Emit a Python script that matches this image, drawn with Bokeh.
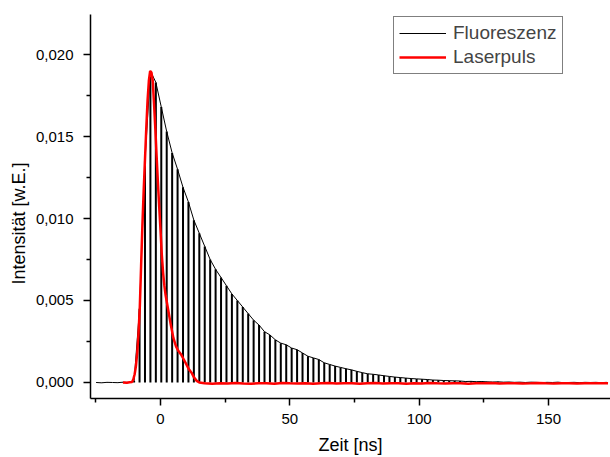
from bokeh.plotting import figure
from bokeh.models import (Range1d, FixedTicker, CustomJSTickFormatter, Legend,
                          LegendItem, Title)
from bokeh.embed import file_html
from bokeh.resources import INLINE

FONT = "Liberation Sans"

# Fluorescence decay (time in ns, intensity in w.E.)
fluor = [
    (-24.9, 0.00000), (-22.8, -0.00002), (-20.7, 0.00001), (-18.6, 0.00000),
    (-16.5, -0.00001), (-14.4, 0.00002), (-12.3, 0.00000), (-10.2, 0.00010),
    (-8.1, 0.0045), (-6.0, 0.0135), (-3.9, 0.0190), (-1.8, 0.0183),
    (0.3, 0.0168), (2.4, 0.0153), (4.5, 0.0140), (6.6, 0.0130),
    (8.7, 0.0119), (10.8, 0.0110), (12.9, 0.0099), (15.0, 0.0091),
    (17.1, 0.0083), (19.2, 0.0075), (21.3, 0.0069), (23.4, 0.0064),
    (25.5, 0.0059), (27.6, 0.0054), (29.7, 0.0050), (31.8, 0.0046),
    (33.9, 0.0042), (36.0, 0.0038), (38.1, 0.0035), (40.2, 0.0031),
    (42.3, 0.0029), (44.4, 0.0026), (46.5, 0.0024), (48.6, 0.0023),
    (50.7, 0.0021), (52.8, 0.0020), (54.9, 0.0018), (57.0, 0.0016),
    (59.1, 0.0015), (61.2, 0.0014), (63.3, 0.0012), (65.4, 0.0011),
    (67.5, 0.00100), (69.6, 0.00092), (71.7, 0.00084), (73.8, 0.00077),
    (75.9, 0.00068), (78.0, 0.00060), (80.1, 0.00053), (82.2, 0.00050),
    (84.3, 0.00046), (86.4, 0.00041), (88.5, 0.00037), (90.6, 0.00033),
    (92.7, 0.00030), (94.8, 0.00027), (96.9, 0.00024), (99.0, 0.00022),
    (101.1, 0.00020), (103.2, 0.00018), (105.3, 0.00015), (107.4, 0.00014),
    (109.5, 0.00012), (111.6, 0.00011), (113.7, 0.00010), (115.8, 0.00009),
    (117.9, 0.00006), (120.0, 0.00007), (122.1, 0.00005), (124.2, 0.00006),
    (126.3, 0.00004), (128.4, 0.00003), (130.5, 0.00004), (132.6, 0.00002),
    (134.7, 0.00003), (136.8, 0.00001), (138.9, 0.00002), (141.0, 0.00000),
    (143.1, 0.00002), (145.2, 0.00001), (147.3, -0.00001), (149.4, 0.00001),
    (151.5, 0.00000), (153.6, 0.00002), (155.7, -0.00001), (157.8, 0.00000),
    (159.9, 0.00001), (162.0, -0.00001), (164.1, 0.00001), (166.2, 0.00000),
    (168.3, 0.00001), (170.4, -0.00001), (172.5, 0.00001),
]
fluor_t = [a for a, _ in fluor]
fluor_v = [b for _, b in fluor]

# Laser pulse
laser = [
    (-14.5, 0.00000), (-13.0, -0.00002), (-12.0, 0.00001), (-11.0, 0.00003),
    (-10.5, 0.0002), (-10.0, 0.0005), (-9.5, 0.0010), (-9.0, 0.0018),
    (-8.5, 0.0030), (-8.0, 0.0046), (-7.5, 0.0071), (-7.0, 0.0096),
    (-6.5, 0.0117), (-6.0, 0.0136), (-5.5, 0.0155), (-5.0, 0.0172),
    (-4.5, 0.0184), (-4.0, 0.0190), (-3.5, 0.0189), (-3.0, 0.0184),
    (-2.5, 0.0170), (-2.0, 0.0155), (-1.5, 0.0138), (-1.0, 0.0122),
    (-0.5, 0.0107), (0.0, 0.0093), (0.5, 0.0078), (1.0, 0.0067),
    (1.5, 0.0059), (2.0, 0.0053), (3.0, 0.0044), (4.0, 0.0035),
    (5.0, 0.0027), (6.0, 0.0022), (7.0, 0.0019), (8.0, 0.0017),
    (9.0, 0.0014), (10.0, 0.0011), (11.0, 0.0008), (12.0, 0.0006),
    (13.0, 0.0003), (14.0, 0.0001), (15.0, 0.0000), (17.0, -0.00005),
    (20.0, -0.00007), (23.0, -0.00004), (26.0, -0.00006), (29.0, -0.00003),
    (32.0, -0.00006), (35.0, -0.00008), (38.0, -0.00004), (41.0, -0.00005),
    (44.0, -0.00007), (47.0, -0.00003), (50.0, -0.00005), (53.0, -0.00006),
    (56.0, -0.00004), (59.0, -0.00007), (62.0, -0.00005), (65.0, -0.00003),
    (68.0, -0.00006), (71.0, -0.00005), (74.0, -0.00004), (77.0, -0.00007),
    (80.0, -0.00005), (83.0, -0.00003), (86.0, -0.00006), (89.0, -0.00004),
    (92.0, -0.00005), (95.0, -0.00007), (98.0, -0.00004), (101.0, -0.00006),
    (104.0, -0.00003), (107.0, -0.00005), (110.0, -0.00006), (113.0, -0.00004),
    (116.0, -0.00005), (119.0, -0.00007), (122.0, -0.00004), (125.0, -0.00005),
    (128.0, -0.00003), (131.0, -0.00006), (134.0, -0.00005), (137.0, -0.00004),
    (140.0, -0.00006), (143.0, -0.00005), (146.0, -0.00003), (149.0, -0.00005),
    (152.0, -0.00006), (155.0, -0.00004), (158.0, -0.00005), (161.0, -0.00006),
    (164.0, -0.00004), (167.0, -0.00005), (170.0, -0.00004), (173.0, -0.00005),
]
laser_t = [a for a, _ in laser]
laser_v = [b for _, b in laser]

x_ticks = [0, 50, 100, 150]
x_minor = [-25, 25, 75, 125, 175]
y_ticks = [0.0, 0.005, 0.010, 0.015, 0.020]
y_minor = [0.0025, 0.0075, 0.0125, 0.0175]

p = figure(width=610, height=457,
           x_range=Range1d(-27.06, 173.95), y_range=Range1d(-0.000976, 0.02244),
           output_backend="svg", toolbar_location=None,
           min_border_left=90, min_border_right=0, min_border_top=14,
           min_border_bottom=59)
p.xgrid.visible = False
p.ygrid.visible = False
p.outline_line_color = None
p.background_fill_color = "white"

for ax in (p.xaxis[0], p.yaxis[0]):
    ax.axis_line_width = 1.5
    ax.axis_line_color = "black"
    ax.major_tick_line_width = 1.5
    ax.minor_tick_line_width = 1.5
    ax.major_tick_in = 0
    ax.minor_tick_in = 0
    ax.major_tick_out = 7
    ax.minor_tick_out = 4
    ax.major_label_text_font = FONT
    ax.major_label_text_font_size = "15px"
    ax.major_label_text_color = "black"

p.yaxis.major_label_standoff = 10
p.xaxis.major_label_standoff = 8
p.xaxis.axis_label = "Zeit [ns]"
p.xaxis.axis_label_text_font = FONT
p.xaxis.axis_label_text_font_size = "18px"
p.xaxis.axis_label_text_font_style = "normal"
p.xaxis.axis_label_text_color = "black"
p.xaxis.axis_label_standoff = 8

p.xaxis.ticker = FixedTicker(ticks=x_ticks, minor_ticks=x_minor)
p.yaxis.ticker = FixedTicker(ticks=y_ticks, minor_ticks=y_minor)
p.yaxis.formatter = CustomJSTickFormatter(code="return tick.toFixed(3).replace('.', ',');")

drops = p.segment(x0=fluor_t, y0=[0.0] * len(fluor_t), x1=fluor_t, y1=fluor_v,
                  line_color="black", line_width=2)
fl_line = p.line(fluor_t, fluor_v, line_color="black", line_width=1)
la_line = p.line(laser_t, laser_v, line_color="#ff0000", line_width=2.5)

legend = Legend(items=[LegendItem(label="Fluoreszenz", renderers=[fl_line]),
                       LegendItem(label="Laserpuls", renderers=[la_line])],
                location=(303, 324))
legend.border_line_color = "black"
legend.border_line_width = 1
legend.label_text_font = FONT
legend.label_text_font_size = "19px"
legend.glyph_width = 47
legend.glyph_height = 20
legend.label_height = 20
legend.label_standoff = 7
legend.padding = 5
legend.spacing = 2
legend.margin = 0
p.add_layout(legend)

ytitle = Title(text="Intensität [w.E.]", align="left", offset=114,
               text_font=FONT, text_font_size="18px", text_font_style="normal",
               text_color="black", standoff=8)
p.add_layout(ytitle, "left")

open("out.html", "w").write(file_html(p, INLINE))
